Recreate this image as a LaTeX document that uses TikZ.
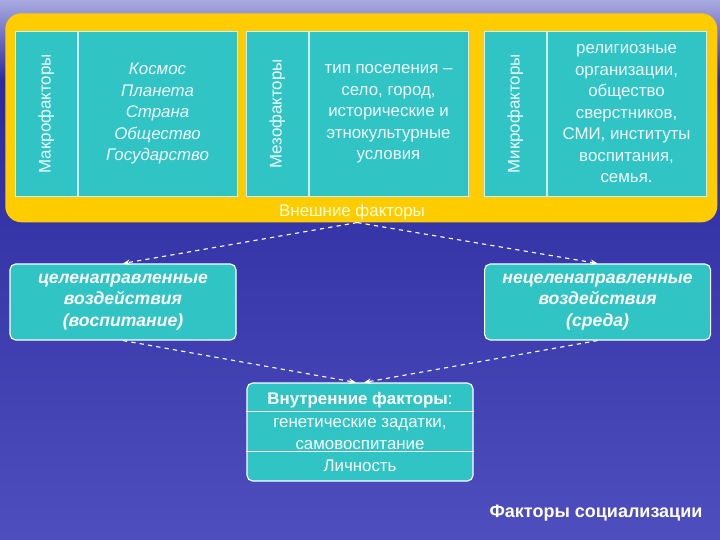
\documentclass[tikz,border=0pt]{standalone}
\usepackage{fontspec}
\setmainfont{Liberation Sans}
\usepackage{graphicx}
\usetikzlibrary{arrows.meta, positioning, calc}

\definecolor{bgtop}{RGB}{170,170,225}
\definecolor{bgdeep}{RGB}{42,42,158}
\definecolor{bgbottom}{RGB}{78,78,190}
\definecolor{boxteal}{RGB}{48,196,196}
\definecolor{gold}{RGB}{255,204,0}
\definecolor{paleyellow}{RGB}{255,255,215}

\begin{document}
\begin{tikzpicture}[
    cell/.style={
        draw=white!80!cyan, line width=0.5pt, fill=boxteal, text=white!94!cyan,
        minimum height=4.125cm, inner sep=0pt, align=center,
        font=\fontsize{12}{15.3}\selectfont
    },
    tag/.style={cell, minimum width=1.55cm, anchor=north west},
    content/.style={cell, minimum width=3.975cm},
    impact/.style={
        draw=white, line width=0.8pt, rounded corners=4pt, fill=boxteal,
        text=white, align=center, minimum width=5.65cm, minimum height=1.9cm,
        font=\fontsize{12.5}{15.5}\selectfont\bfseries\itshape
    },
    rowtext/.style={text=white, align=center, font=\fontsize{12}{15.3}\selectfont},
    flow/.style={draw=white, dashed, line width=0.8pt, -{Stealth[length=5pt, width=4pt]}},
]

% Background and page size
\useasboundingbox (0,0) rectangle (18,-13.5);
\shade[top color=bgtop, bottom color=bgdeep] (0,0) rectangle (18,-2.0);
\shade[top color=bgdeep, bottom color=bgbottom] (0,-2.0) rectangle (18,-13.5);

% External factors frame
\node[fill=gold, rounded corners=0.4cm, minimum width=17.8cm, minimum height=5.225cm,
      anchor=north west, inner sep=0pt] (outer) at (0.125,-0.325) {};

% Macro / meso / micro columns
\node[tag] (macro) at (0.375,-0.775) {\rotatebox{90}{Макрофакторы}};
\node[content, right=0pt of macro, font=\fontsize{12}{15.3}\selectfont\itshape] (macrotxt)
      {Космос\\Планета\\Страна\\Общество\\Государство};

\node[tag] (meso) at (6.15,-0.775) {\rotatebox{90}{Мезофакторы}};
\node[content, right=0pt of meso] (mesotxt)
      {тип поселения --\\село, город,\\исторические и\\этнокультурные\\условия};

\node[tag] (micro) at (12.1,-0.775) {\rotatebox{90}{Микрофакторы}};
\node[content, right=0pt of micro] (microtxt)
      {религиозные\\организации,\\общество\\сверстников,\\СМИ, институты\\воспитания,\\семья.};

\node[font=\fontsize{12}{15.3}\selectfont, text=paleyellow] (ext) at (8.8,-5.3) {Внешние факторы};

% Two kinds of influence
\node[impact] (aim) at (3.075,-7.55) {целенаправленные\\воздействия\\(воспитание)};
\node[impact] (env) at (14.94,-7.55) {нецеленаправленные\\воздействия\\(среда)};

% Internal factors box
\node[impact, minimum height=2.45cm] (inner) at (9.0,-10.8) {};
\draw[white, line width=0.6pt] (inner.west |- 0,-10.275) -- (inner.east |- 0,-10.275);
\draw[white, line width=0.6pt] (inner.west |- 0,-11.275) -- (inner.east |- 0,-11.275);
\node[rowtext] (intern) at (9.0,-10.0) {\textbf{Внутренние факторы}:};
\node[rowtext] (genes) at (9.0,-10.85) {генетические задатки,\\самовоспитание};
\node[rowtext] (person) at (9.0,-11.65) {Личность};

% Caption
\node[font=\fontsize{12.8}{15}\selectfont\bfseries, text=white] (title) at (14.9,-12.82) {Факторы социализации};

% Connectors
\draw[flow] ([xshift=-1mm]outer.south) -- (aim.north);
\draw[flow] ([xshift=-1mm]outer.south) -- (env.north);
\draw[flow] (aim.south) -- ([xshift=-1mm]inner.north);
\draw[flow] (env.south) -- ([xshift=1mm]inner.north);

\end{tikzpicture}
\end{document}
